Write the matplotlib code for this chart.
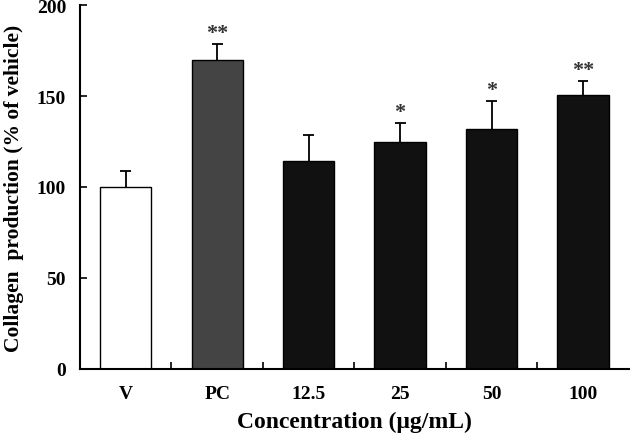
import matplotlib
matplotlib.use("Agg")
import matplotlib.pyplot as plt
import numpy as np

groups = ["V", "PC", "12.5", "25", "50", "100"]
means = [100, 170, 114, 124.5, 132, 150.5]
errs = [9, 8.5, 14.5, 10.5, 15, 7.5]
stars = ["", "**", "", "*", "*", "**"]
colors = ["white", "#444444", "#111111", "#111111", "#111111", "#111111"]

plt.rcParams["font.family"] = ["Liberation Serif", "DejaVu Serif"]
plt.rcParams["font.weight"] = "bold"

fig = plt.figure(figsize=(6.3, 4.35), dpi=100)
ax = fig.add_axes([0.127, 0.150, 0.871, 0.836])

x = np.arange(len(groups))
tops = np.array(means) + np.array(errs)
ax.vlines(x, means, tops, color="black", linewidth=1.3, zorder=1)
ax.hlines(tops, x - 0.06, x + 0.06, color="black", linewidth=1.3, zorder=1)
ax.bar(x, means, width=0.56, color=colors, edgecolor="black", linewidth=1.0, zorder=2)

for xi, t, s in zip(x, tops, stars):
    if s:
        ax.annotate(s, (xi, t), xytext=(0, 1), textcoords="offset points",
                    ha="center", va="bottom", fontsize=16, color="#333333")

ax.set_xlim(-0.5, 5.5)
ax.set_ylim(0, 200)
ax.set_yticks([0, 50, 100, 150, 200])
ax.set_xticks(x)
ax.set_xticklabels(groups)
ax.set_xticks(np.arange(0.5, 5.5, 1), minor=True)
ax.tick_params(axis="x", which="major", length=0, pad=12, labelsize=14)
ax.tick_params(axis="x", which="minor", direction="in", length=5, width=1.2)
ax.tick_params(axis="y", direction="in", length=5, width=1.2, labelsize=14, pad=10)

for sp in ["top", "right"]:
    ax.spines[sp].set_visible(False)
for sp in ["left", "bottom"]:
    ax.spines[sp].set_linewidth(1.5)

ax.set_xlabel("Concentration (\u03bcg/mL)", fontsize=17, fontweight="bold", labelpad=6)
ax.set_ylabel("Collagen  production (% of vehicle)", fontsize=15.5, fontweight="bold", labelpad=9)

fig.savefig("out.png", dpi=100)
